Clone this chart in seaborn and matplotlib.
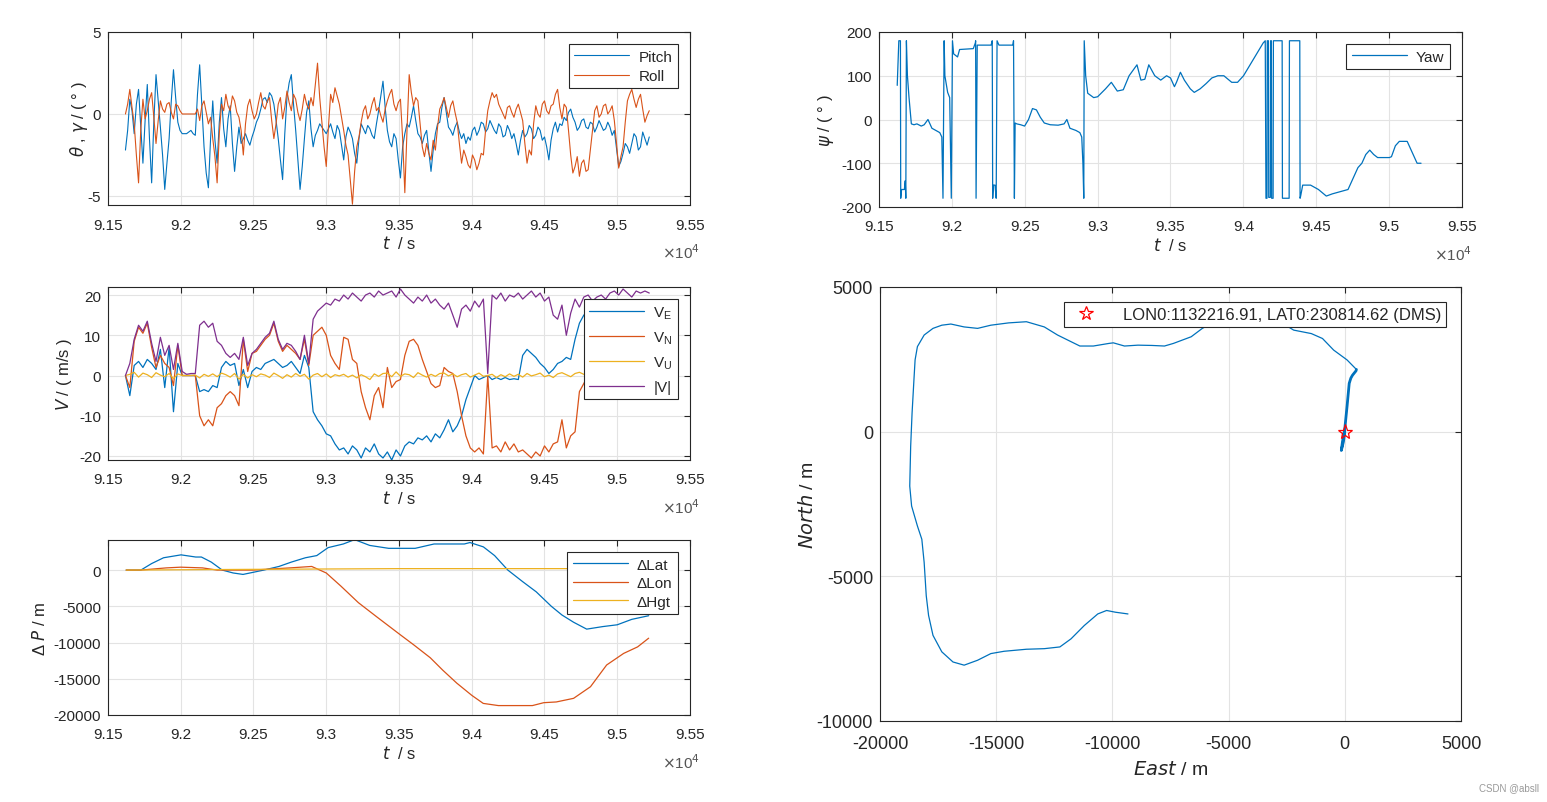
import numpy as np
import matplotlib
matplotlib.use("Agg")
import matplotlib.pyplot as plt
from matplotlib.ticker import FuncFormatter, MultipleLocator
import seaborn as sns

# sampling grids of the logs (s)
T0 = 91620
ATT_DT = 15
VEL_DT = 30

pitch = [-2.2, -1.0, 0.9, 0.2, -1.2, 0.6, 1.5, -0.8, -3.0, -0.4, 1.8, -1.5, -4.2, -0.5, 2.4, 0.8, -0.8, -2.5, -4.6, -3.0,
         -1.5, 0.8, 2.7, 1.0, -0.5, -1.0, -1.2, -1.2, -1.2, -1.1, -1.0, -1.2, -1.3, 1.2, 3.0, 0.5, -2.0, -3.6, -4.5, -1.5,
         0.8, -1.6, -3.0, -0.5, 1.0, -0.9, -2.0, -0.3, 0.5, -1.8, -3.5, -2.0, -0.8, -1.8, -1.5, -1.2, -1.6, -1.9, -1.4, -1.0,
         -0.5, -0.2, 0.3, 0.9, 1.0, 0.7, 1.3, 1.1, 0.6, -0.4, -1.5, -2.8, -4.0, -1.2, 1.0, 1.9, 2.4, 0.6, -1.0, -2.8,
         -4.6, -3.2, -1.5, 0.1, 0.8, -0.9, -2.0, -1.3, -1.0, -0.6, -0.8, -1.0, -1.2, -0.9, -0.6, -1.1, -1.5, -0.7, -1.0, -1.9,
         -2.8, -1.4, -0.8, -1.1, -1.5, -2.4, -3.0, -1.5, -0.6, -0.9, -1.2, -0.7, -0.9, -1.3, -1.5, -0.6, 0.2, 1.1, 2.0, 0.4,
         -1.0, -1.7, -2.0, -1.2, -1.5, -2.8, -3.9, -2.0, -1.2, -0.6, -0.8, -0.2, 0.5, -0.4, -1.2, -1.4, -1.8, -1.3, -1.0, -2.3,
         -3.5, -2.2, -1.2, -0.6, -0.5, 0.4, 1.0, 0.1, -0.8, -1.0, -1.3, -0.8, -0.5, -1.1, -1.5, -1.2, -1.8, -1.4, -1.6, -1.0,
         -0.8, -1.3, -1.0, -0.5, -0.6, -1.1, -0.9, -0.4, -0.7, -1.0, -1.2, -0.6, -0.8, -1.4, -1.3, -0.7, -1.0, -1.5, -1.2, -1.8,
         -2.5, -1.6, -1.0, -1.4, -1.2, -0.7, -0.9, -1.5, -1.3, -0.8, -1.0, -1.6, -1.4, -2.0, -2.8, -1.6, -0.9, -0.5, -1.1, -0.6,
         -0.7, -0.2, -0.4, 0.1, 0.3, -0.2, -0.5, -1.0, -0.8, -0.4, -0.3, -0.8, -0.9, -0.5, -0.6, -1.1, -0.8, -0.4, -0.7, -1.0,
         -0.9, -0.5, -0.8, -1.3, -1.0, -2.1, -3.2, -2.9, -2.4, -1.8, -2.0, -2.4, -1.8, -1.2, -1.4, -2.2, -2.0, -1.1, -1.5, -1.9,
         -1.4]
roll = [0.0, 0.6, 1.5, 0.4, -0.6, -2.5, -4.2, -1.0, 0.9, -0.3, 0.2, 0.9, 1.3, -0.2, -1.8, -0.4, 0.8, 0.3, 0.1, 0.6,
        0.7, 0.1, -0.3, 0.6, 0.5, 0.2, 0.0, 0.0, 0.0, 0.0, 0.0, 0.0, 0.0, 0.3, -0.4, 0.5, 0.8, 0.1, -0.6, -0.2,
        -1.5, -2.6, -4.2, -1.2, 0.6, 0.2, 1.2, 0.5, 0.2, 1.1, 0.8, 0.1, -0.2, -1.0, -2.5, -0.6, 0.5, 0.9, 0.2, -0.3,
        0.0, 0.7, 1.3, 0.5, 0.3, 0.8, 1.0, -0.4, -1.5, -0.6, 0.6, 1.0, -0.3, 0.4, 1.4, 0.7, 0.2, 1.2, 0.9, 0.1,
        -0.4, 0.3, 1.2, 0.6, 0.3, 1.0, 0.5, 1.8, 3.1, 1.0, -0.5, -2.0, -3.2, -0.8, 1.2, 0.7, 1.6, 1.1, 0.6, -0.2,
        -1.0, -1.9, -2.5, -4.0, -5.5, -3.5, -2.0, -1.4, -0.5, 0.2, 0.5, -0.3, 0.0, 0.6, 1.0, 0.2, 0.4, -0.1, -0.5, 0.3,
        0.8, 1.2, 1.5, 0.6, 0.2, 0.7, 0.9, -1.5, -4.8, -1.0, 2.4, 1.3, 0.5, 1.0, 0.8, -0.6, -2.0, -2.6, -1.8, -2.4,
        -2.8, -1.6, -2.2, -0.8, 0.3, 0.6, 1.0, 0.4, -0.2, 0.5, 0.8, 0.1, -0.5, -1.8, -3.0, -2.2, -2.6, -3.1, -3.3, -2.5,
        -2.8, -3.4, -3.0, -2.4, -2.5, -1.0, 0.2, 0.8, 1.3, 1.0, 1.2, 0.6, 0.3, 0.0, -0.3, 0.4, 0.5, 0.1, -0.2, 0.3,
        0.6, 0.1, -0.4, -1.8, -3.0, -2.2, -2.5, -0.6, 0.5, 0.0, -0.2, 0.6, 0.8, 0.2, 0.0, 0.5, 0.6, 1.2, 1.5, 0.4,
        -0.3, 0.6, 0.4, -1.0, -2.5, -3.6, -3.2, -2.6, -3.8, -3.0, -2.8, -3.5, -3.4, -2.2, -1.0, 0.2, 0.5, -0.2, 0.0, 0.5,
        0.6, 0.0, 0.2, 0.5, -0.4, -1.8, -3.3, -2.6, -2.0, -0.5, 0.8, 1.2, 1.5, 0.9, 0.4, 0.9, 1.2, 0.3, -0.5, -0.1,
        0.2]

vel_e = [0.0, -5.0, 2.5, 3.5, 2.0, 4.0, 3.0, 1.5, 6.5, -3.0,
         7.0, -9.0, 3.0, 0.0, 0.0, 0.0, 0.0, -4.0, -3.5, -4.0,
         -2.5, -3.0, 2.0, 3.5, 2.5, 3.0, -2.5, 1.5, -3.0, 1.0,
         2.0, 1.5, 3.0, 3.5, 4.0, 3.0, 2.0, 2.5, 3.5, 2.0,
         0.5, 5.0, 2.0, -9.0, -11.0, -12.5, -14.5, -15.0, -17.0, -18.5,
         -18.0, -19.5, -17.5, -18.5, -20.5, -18.0, -19.0, -17.0, -19.5, -20.5,
         -19.0, -21.0, -18.5, -20.0, -17.5, -16.5, -17.0, -15.5, -16.0, -15.0,
         -16.5, -14.5, -15.5, -13.5, -11.0, -14.0, -12.5, -10.0, -6.0, -3.0,
         0.0, -1.0, -0.5, 0.0, -1.0, -0.5, -1.0, -0.5, -1.0, -0.8,
         -1.0, 5.0, 6.5, 5.5, 4.5, 3.0, 2.0, 0.5, 1.5, 3.0,
         3.5, 4.5, 4.0, 9.0, 13.0, 15.0, 16.0, 17.0, 17.5, 18.0,
         17.5, 18.0, 17.0, 18.5, 17.5, 18.0, 18.5, 17.0, 18.0, 18.5,
         18.0]
vel_n = [0.0, -3.0, 8.5, 12.0, 10.5, 13.0, 7.0, 2.0, 5.0, 3.0,
         2.0, -2.5, 7.5, 0.0, 0.0, 0.0, 0.0, -10.0, -12.5, -11.0,
         -12.5, -8.0, -7.0, -5.0, -4.0, -5.0, -7.5, 9.0, 1.0, 5.5,
         6.0, 7.5, 9.0, 10.0, 13.0, 8.5, 6.0, 7.5, 6.5, 5.5,
         4.0, 9.0, 2.5, 10.0, 11.0, 12.0, 10.0, 5.0, 3.0, 1.5,
         9.5, 9.0, 4.0, 3.0, -4.0, -8.0, -11.0, -5.0, -3.0, -8.0,
         2.0, -3.0, -1.5, -1.0, 5.0, 8.5, 9.0, 7.5, 4.0, 1.0,
         -2.0, -3.0, -2.5, 2.0, 1.0, 0.5, -4.0, -10.0, -15.0, -18.0,
         -19.0, -18.0, -19.5, 0.0, -18.0, -17.5, -19.0, -16.5, -18.5, -17.0,
         -19.0, -18.5, -19.5, -20.5, -19.0, -20.0, -17.5, -19.0, -17.0, -16.5,
         -11.0, -18.0, -15.0, -14.0, -4.0, -2.0, 0.0, 1.0, 0.0, -1.0,
         0.5, -1.0, 0.0, 1.0, -0.5, 0.0, 1.5, 0.5, -1.0, 0.0,
         0.5]
vel_u = [0.0, 0.3, 0.8, -0.4, 0.6, 0.2, -0.5, 0.7, 0.1, -0.3,
         0.5, -0.8, 0.4, 0.0, 0.0, 0.0, 0.1, -0.6, 0.3, -0.2,
         0.4, -0.3, 0.6, 0.2, -0.4, 0.5, -0.9, 0.3, -0.6, 0.2,
         -0.3, 0.4, 0.1, -0.5, 0.6, 0.0, -0.7, 0.2, -0.4, 0.5,
         -0.2, 0.3, -0.9, 0.1, 0.5, -0.3, 0.4, -0.5, 0.2, -0.1,
         0.3, -0.4, 0.1, -0.6, 0.2, -0.3, -1.0, 0.4, -0.2, 0.5,
         0.6, -0.3, 0.9, -0.2, 0.4, 0.2, -0.5, 0.7, 0.1, -0.4,
         0.3, -0.2, 0.5, 0.6, -0.1, 0.4, -0.3, 0.2, 0.5, -0.4,
         0.1, 0.6, -0.2, 0.0, 0.3, -0.5, 0.2, -0.3, 0.4, -0.2,
         0.3, -0.4, 0.5, -0.1, 0.2, 0.6, -0.3, 0.1, -0.5, 0.4,
         0.7, 0.2, -0.3, 0.5, 0.8, 0.3, -0.2, 0.6, 0.1, 0.4,
         0.2, -0.3, 0.5, 0.0, 0.4, -0.2, 0.3, 0.1, -0.1, 0.2,
         0.0]
vel_abs = [0.0, 3.0, 9.0, 12.5, 11.0, 13.5, 8.0, 3.5, 9.5, 5.0,
           7.5, 1.5, 8.0, 1.0, 0.3, 0.5, 0.5, 12.5, 13.5, 12.0,
           13.0, 8.5, 7.5, 5.5, 4.5, 5.5, 4.0, 9.5, 2.5, 5.5,
           6.5, 8.0, 9.5, 10.5, 13.5, 9.0, 6.5, 8.0, 7.5, 6.0,
           4.0, 10.0, 3.0, 14.0, 16.0, 17.0, 18.0, 17.5, 19.0, 18.5,
           20.0, 19.0, 20.5, 19.5, 18.5, 20.0, 20.5, 19.5, 21.0, 20.0,
           20.5, 21.0, 19.5, 21.5, 20.0, 19.0, 18.0, 19.5, 18.5, 20.0,
           18.0, 19.0, 17.5, 16.5, 18.0, 15.0, 12.0, 16.5, 17.5, 16.0,
           18.5, 17.0, 19.0, 0.5, 20.0, 19.0, 20.5, 18.5, 20.0, 19.5,
           20.5, 19.0, 20.0, 21.0, 19.5, 20.5, 18.5, 19.5, 15.0, 14.0,
           17.5, 10.0, 15.5, 19.0, 17.0, 19.5, 20.0, 18.5, 19.5, 20.0,
           19.0, 20.5, 21.0, 20.0, 21.5, 20.5, 19.5, 21.0, 20.5, 21.0,
           20.5]

# position errors (m), each with its own epochs
lat_t = [91625, 91726, 91800, 91882, 92002, 92103, 92142, 92210, 92285, 92360,
         92428, 92500, 92571, 92675, 92760, 92857, 92935, 93013, 93117, 93195,
         93299, 93429, 93611, 93741, 93949, 93988, 94080, 94157, 94248, 94350,
         94443, 94547, 94620, 94700, 94790, 94900, 95000, 95100, 95216]
lat_v = [0, 0, 900, 1700, 2100, 1800, 1800, 1100, 0, -400,
         -600, -300, 0, 500, 1100, 1700, 2000, 3100, 3600, 4200,
         3400, 3000, 3000, 3600, 3600, 3800, 3200, 2000, 0, -1600,
         -3000, -5000, -6200, -7200, -8150, -7800, -7550, -6800, -6300]
lon_t = [91625, 91726, 91900, 92000, 92150, 92250, 92500, 92750, 92900, 93000,
         93100, 93221, 93350, 93507, 93600, 93715, 93800, 93897, 94001, 94079,
         94183, 94417, 94495, 94581, 94700, 94816, 94927, 95044, 95140, 95216]
lon_v = [0, 0, 300, 400, 300, 0, 0, 300, 500, -400,
         -2200, -4500, -6500, -8900, -10300, -12100, -13800, -15600, -17300, -18400,
         -18700, -18700, -18300, -18200, -17700, -16100, -13100, -11500, -10600, -9400]
hgt_t = [91625, 92500, 93500, 94500, 95216]
hgt_v = [0, 100, 200, 200, 200]

# yaw with the +/-180 wraps
yaw_t = [91625, 91636, 91647, 91649, 91655, 91674, 91680, 91684, 91688, 91695,
         91706, 91722, 91740, 91760, 91790, 91810, 91836, 91863, 91890, 91917,
         91931, 91939, 91947, 91952, 91971, 91985, 91996, 92004, 92012, 92039,
         92053, 92147, 92161, 92163, 92166, 92174, 92188, 92269, 92277, 92280,
         92285, 92296, 92304, 92310, 92323, 92418, 92423, 92429, 92434, 92445,
         92472, 92499, 92526, 92553, 92580, 92607, 92634, 92675, 92729, 92770,
         92789, 92810, 92851, 92878, 92891, 92899, 92905, 92908, 92918, 92932,
         92973, 93000, 93054, 93094, 93135, 93176, 93216, 93270, 93297, 93324,
         93351, 93392, 93433, 93473, 93500, 93527, 93541, 93568, 93595, 93636,
         93663, 93703, 93744, 93784, 93825, 93866, 93920, 93960, 94001, 94055,
         94109, 94136, 94150, 94155, 94162, 94164, 94172, 94174, 94185, 94187,
         94192, 94194, 94204, 94206, 94266, 94268, 94314, 94316, 94387, 94389,
         94393, 94407, 94461, 94515, 94569, 94610, 94664, 94718, 94745, 94786,
         94813, 94840, 94867, 94894, 94921, 95002, 95016, 95043, 95070, 95124,
         95165, 95192, 95219]
yaw_v = [78, 180, 180, -180, -160, -160, -140, -180, 180, 100,
         50, -10, -12, -10, -15, -12, 0, -20, -25, -30,
         -40, -180, 180, 100, 62, 50, -180, 180, 150, 143,
         160, 162, 175, 180, -180, 170, 170, 170, 180, -180,
         -150, -150, -180, 180, 170, 170, 180, -180, -8, -10,
         -12, -15, 0, 25, 22, 5, -8, -12, -13, -10,
         0, -20, -25, -30, -40, -100, -180, 180, 100, 60,
         50, 52, 70, 85, 65, 68, 100, 125, 90, 92,
         125, 100, 90, 100, 95, 75, 85, 108, 90, 70,
         62, 70, 82, 95, 100, 100, 85, 85, 100, 130,
         160, 175, 180, -180, -180, 180, 180, -178, -178, 180,
         180, -180, -180, 180, 180, -180, -180, 180, 180, -180,
         -175, -150, -150, -160, -175, -170, -165, -160, -140, -110,
         -100, -80, -70, -80, -87, -87, -85, -60, -50, -50,
         -80, -100, -100]

# trajectory (m); first part is the back-and-forth near the start point
east = [0, -60, -150, -100, 0, 100, 190, 260, 330, 480, 500,
        96, -480, -960, -1440, -2200, -3000, -4000, -5000, -5600, -6130,
        -6610, -7375, -7760, -8300, -8900, -9480, -9960, -10150, -10820, -11400,
        -11780, -12360, -12930, -13700, -14460, -15230, -15800, -16380, -16950, -17340,
        -17720, -18100, -18390, -18490, -18540, -18620, -18680, -18720, -18640, -18390,
        -18200, -18100, -18010, -17910, -17720, -17340, -16860, -16380, -15800, -15230,
        -14660, -13700, -12930, -12260, -11780, -11210, -10630, -10250, -9870, -9330]
north = [0, -350, -650, -350, 100, 900, 1670, 1850, 1950, 2100, 2150,
         2480, 2820, 3220, 3390, 3510, 3900, 4150, 4000, 3800, 3570,
         3280, 3050, 2960, 2980, 2990, 2960, 3070, 3050, 2960, 2960,
         3110, 3340, 3620, 3800, 3760, 3680, 3570, 3620, 3720, 3680,
         3570, 3340, 2940, 2480, 1790, 640, -500, -1880, -2570, -3260,
         -3720, -4520, -5670, -6350, -7040, -7610, -7960, -8070, -7900, -7670,
         -7590, -7520, -7500, -7440, -7160, -6700, -6300, -6180, -6240, -6300]
N_START = 11
lon0_label = "LON0:1132216.91, LAT0:230814.62 (DMS)"

BLUE, ORANGE, YELLOW, PURPLE = "#0072BD", "#D95319", "#EDB120", "#7E2F8E"
DARK = "#262626"

sns.set_theme(style="whitegrid", rc={
    "axes.edgecolor": DARK, "axes.linewidth": 0.8, "grid.color": "#e3e3e3",
    "grid.linewidth": 0.8, "xtick.direction": "in", "ytick.direction": "in",
    "xtick.color": DARK, "ytick.color": DARK, "axes.labelcolor": DARK,
    "text.color": DARK, "axes.unicode_minus": False,
})
plt.rcParams["font.family"] = ["Liberation Sans", "DejaVu Sans"]
plt.rcParams["mathtext.fontset"] = "dejavusans"

fig = plt.figure(figsize=(15.47, 8.03), dpi=100)
W, H = 1547, 803
ax1 = fig.add_axes([108 / W, 1 - 206 / H, 582 / W, 173 / H])
ax2 = fig.add_axes([108 / W, 1 - 461 / H, 582 / W, 173 / H])
ax3 = fig.add_axes([108 / W, 1 - 716 / H, 582 / W, 175 / H])
ax4 = fig.add_axes([879 / W, 1 - 208 / H, 583 / W, 175 / H])
ax5 = fig.add_axes([880 / W, 1 - 722 / H, 581 / W, 434 / H])

t_att = (T0 + ATT_DT * np.arange(len(pitch))) / 1e4
t_vel = (T0 + VEL_DT * np.arange(len(vel_e))) / 1e4


def style_box(ax, fs, xpad):
    ax.tick_params(which="both", direction="in", top=True, right=True,
                   length=4, width=0.8, labelsize=fs)
    ax.tick_params(axis="x", pad=xpad)
    ax.tick_params(axis="y", pad=5)
    for s in ax.spines.values():
        s.set_visible(True)
        s.set_color(DARK)
        s.set_linewidth(0.8)


def time_axis(ax):
    ax.set_xlim(9.15, 9.55)
    ax.xaxis.set_major_locator(MultipleLocator(0.05))
    ax.xaxis.set_major_formatter(FuncFormatter(lambda v, p: f"{round(v, 2):g}"))
    ax.set_xlabel(r"$t$  / s", fontsize=12, labelpad=2)
    ax.text(1.018, -0.215, r"$\times$10$^4$", transform=ax.transAxes,
            ha="right", va="top", fontsize=11, color="#555555")
    style_box(ax, 11, 9)


def box_legend(ax, fs=11, **kw):
    leg = ax.legend(loc="upper right", fancybox=False, framealpha=1,
                    edgecolor=DARK, fontsize=fs, borderpad=0.35,
                    borderaxespad=0.8, handlelength=3.6, handletextpad=0.6, **kw)
    leg.get_frame().set_linewidth(0.8)
    return leg


# attitude
sns.lineplot(x=t_att, y=pitch, ax=ax1, color=BLUE, lw=0.8, label="Pitch")
sns.lineplot(x=t_att, y=roll, ax=ax1, color=ORANGE, lw=0.8, label="Roll")
ax1.set_ylim(-5.55, 5)
ax1.set_yticks([-5, 0, 5])
ax1.set_ylabel(r"$\theta$ , $\gamma$ / ( ° )", fontsize=12, labelpad=-2)
time_axis(ax1)
box_legend(ax1, labelspacing=0.35)

# velocity
sns.lineplot(x=t_vel, y=vel_e, ax=ax2, color=BLUE, lw=0.9, label=r"V$_\mathregular{E}$")
sns.lineplot(x=t_vel, y=vel_n, ax=ax2, color=ORANGE, lw=0.9, label=r"V$_\mathregular{N}$")
sns.lineplot(x=t_vel, y=vel_u, ax=ax2, color=YELLOW, lw=0.9, label=r"V$_\mathregular{U}$")
sns.lineplot(x=t_vel, y=vel_abs, ax=ax2, color=PURPLE, lw=0.9, label="|V|")
ax2.set_ylim(-21, 22)
ax2.set_yticks([-20, -10, 0, 10, 20])
ax2.set_ylabel(r"$V$ / ( m/s )", fontsize=12)
time_axis(ax2)
box_legend(ax2, labelspacing=0.55)

# position
sns.lineplot(x=np.array(lat_t) / 1e4, y=lat_v, ax=ax3, color=BLUE, lw=0.9, label="ΔLat")
sns.lineplot(x=np.array(lon_t) / 1e4, y=lon_v, ax=ax3, color=ORANGE, lw=0.9, label="ΔLon")
sns.lineplot(x=np.array(hgt_t) / 1e4, y=hgt_v, ax=ax3, color=YELLOW, lw=0.9, label="ΔHgt")
ax3.set_ylim(-20000, 4150)
ax3.set_yticks([-20000, -15000, -10000, -5000, 0])
ax3.set_ylabel(r"Δ $P$ / m", fontsize=12)
time_axis(ax3)
box_legend(ax3, labelspacing=0.3)

# yaw
sns.lineplot(x=np.array(yaw_t) / 1e4, y=yaw_v, ax=ax4, color=BLUE, lw=0.9,
             label="Yaw", sort=False, estimator=None)
ax4.set_ylim(-200, 200)
ax4.set_yticks([-200, -100, 0, 100, 200])
ax4.set_ylabel(r"$\psi$ / ( ° )", fontsize=12)
time_axis(ax4)
box_legend(ax4)

# trajectory
sns.lineplot(x=east, y=north, ax=ax5, color=BLUE, lw=0.9, sort=False, estimator=None)
sns.lineplot(x=east[:N_START], y=north[:N_START], ax=ax5, color=BLUE, lw=2.0,
             sort=False, estimator=None)
ax5.plot([0], [0], ls="none", marker="*", ms=11, mfc="none", mec="red",
         mew=0.9, label=lon0_label)
ax5.set_xlim(-20000, 5000)
ax5.set_ylim(-10000, 5000)
ax5.set_xticks([-20000, -15000, -10000, -5000, 0, 5000])
ax5.set_yticks([-10000, -5000, 0, 5000])
ax5.set_xlabel(r"$East$ / m", fontsize=14, labelpad=6)
ax5.set_ylabel(r"$North$ / m", fontsize=14, labelpad=0)
style_box(ax5, 13, 10)
leg = ax5.legend(loc="upper right", fancybox=False, framealpha=1, edgecolor=DARK,
                 fontsize=12, borderpad=0.3, borderaxespad=0.9,
                 handletextpad=1.2, markerscale=0.9)
leg.get_frame().set_linewidth(0.8)

fig.text(0.995, 0.012, "CSDN @absll", ha="right", va="bottom", fontsize=7,
         color="#999999")

fig.savefig("out.png", dpi=100)
